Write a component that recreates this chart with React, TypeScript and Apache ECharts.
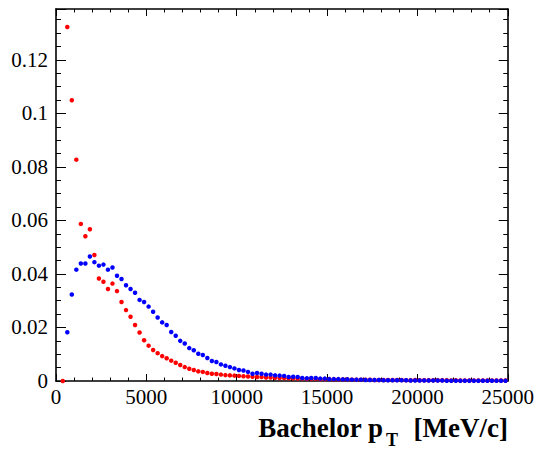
import React, { useEffect, useRef } from "react";
import * as echarts from "echarts";

// Histogram bins: first plotted bin centre and bin width (MeV/c)
const binStart = 375;
const binWidth = 250;

// Red histogram (normalised), bins from 375 to 24875
const redValues: number[] = [
  0, 0.1323, 0.1049, 0.0827, 0.0587, 0.0541, 0.0567, 0.0471, 0.0383, 0.0371,
  0.0344, 0.0364, 0.0336, 0.0295, 0.0265, 0.024, 0.0209, 0.0181, 0.0152, 0.0132,
  0.0116, 0.0104, 0.0093, 0.0085, 0.0076, 0.0068, 0.006, 0.0052, 0.0046, 0.0041,
  0.0036, 0.0034, 0.003, 0.0027, 0.0026, 0.0024, 0.0022, 0.0021, 0.002, 0.0019,
  0.0018, 0.0017, 0.0016, 0.0015, 0.0015, 0.0013, 0.0013, 0.0012, 0.0011, 0.0011,
  0.001, 0.001, 0.0009, 0.0009, 0.0008, 0.0008, 0.0008, 0.0007, 0.0007, 0.0007,
  0.0006,
  0.0006, 0.0006, 0.0006, 0.0005, 0.0005, 0.0005, 0.0005, 0.0005, 0.0004, 0.0004,
  0.0004, 0.0004, 0.0004, 0.0004, 0.0004, 0.0003, 0.0003, 0.0004, 0.0003, 0.0003,
  0.0003, 0.0003, 0.0003, 0.0003, 0.0003, 0.0002, 0.0003, 0.0002, 0.0002, 0.0002,
  0.0002, 0.0002, 0.0002, 0.0002, 0.0002, 0.0002, 0.0002, 0.0002,
];

// Blue histogram (normalised), bins from 375 to 24875 (first bin empty)
const blueValues: (number | null)[] = [
  null, 0.0182, 0.0323, 0.0416, 0.0439, 0.0439, 0.0465, 0.0444, 0.0431, 0.0435,
  0.0416, 0.0424, 0.0393, 0.0381, 0.0358, 0.0344, 0.033, 0.0303, 0.0295, 0.0278,
  0.0259, 0.0237, 0.0219, 0.0209, 0.0183, 0.0169, 0.015, 0.014, 0.0123, 0.0115,
  0.0102, 0.0097, 0.0086, 0.0075, 0.0071, 0.0062, 0.0057, 0.0052, 0.0047, 0.0041,
  0.0039, 0.0034, 0.0027, 0.003, 0.0027, 0.0024, 0.0024, 0.0021, 0.002, 0.0019,
  0.0015, 0.0016, 0.0015, 0.0011, 0.001, 0.0011, 0.0011, 0.0009, 0.0009, 0.0007,
  0.0007,
  0.0007, 0.0006, 0.0006, 0.0005, 0.0005, 0.0005, 0.0004, 0.0004, 0.0004, 0.0004,
  0.0003, 0.0003, 0.0003, 0.0003, 0.0003, 0.0003, 0.0002, 0.0002, 0.0002, 0.0002,
  0.0002, 0.0002, 0.0002, 0.0002, 0.0001, 0.0001, 0.0001, 0.0001, 0.0001, 0.0001,
  0.0001, 0.0001, 0.0001, 0.0001, 0.0001, 0.0001, 0.0001, 0.0001,
];

const xMin = 0;
const xMax = 25000;
const xInterval = 5000;
const yMin = 0;
const yMax = 0.139;
const yInterval = 0.02;

const titleMain = "Bachelor p";
const titleSub = "T";
const titleUnit = "[MeV/c]";

const FONT = "Liberation Serif";

function toPairs(values: (number | null)[]) {
  const out: [number, number][] = [];
  values.forEach((v, i) => {
    if (v !== null) out.push([binStart + i * binWidth, v]);
  });
  return out;
}

export default function App() {
  const ref = useRef<HTMLDivElement>(null);
  useEffect(() => {
    if (!ref.current) return;
    const chart = echarts.init(ref.current, null, { renderer: "svg" });
    const frameLine = { color: "#000", width: 1.6 };
    const tickLine = { color: "#000", width: 1 };
    const richLabel = {
      t: { fontFamily: FONT, fontSize: 21, color: "#000", fontWeight: "normal" as const },
    };
    const xBase = {
      type: "value" as const,
      min: xMin,
      max: xMax,
      interval: xInterval,
      axisLine: { show: true, onZero: false, lineStyle: frameLine },
      axisTick: { show: true, inside: true, length: 7, lineStyle: tickLine },
      minorTick: { show: true, splitNumber: 5, length: 3.5, lineStyle: tickLine },
      splitLine: { show: false },
      minorSplitLine: { show: false },
    };
    const yBase = {
      type: "value" as const,
      min: yMin,
      max: yMax,
      interval: yInterval,
      axisLine: { show: true, onZero: false, lineStyle: frameLine },
      axisTick: { show: true, inside: true, length: 10, lineStyle: tickLine },
      minorTick: { show: true, splitNumber: 4, length: 5, lineStyle: tickLine },
      splitLine: { show: false },
      minorSplitLine: { show: false },
    };
    chart.setOption({
      animation: false,
      backgroundColor: "#fff",
      textStyle: { fontFamily: FONT },
      grid: { left: 56, right: 28, top: 9, bottom: 68, containLabel: false },
      xAxis: [
        {
          ...xBase,
          position: "bottom",
          axisLabel: {
            show: true,
            margin: 5,
            hideOverlap: false,
            fontFamily: FONT,
            fontSize: 21,
            color: "#000",
            rich: richLabel,
            formatter: (v: number) => `{t|${v}}`,
          },
        },
        { ...xBase, position: "top", axisLabel: { show: false } },
      ],
      yAxis: [
        {
          ...yBase,
          position: "left",
          axisLabel: {
            show: true,
            margin: 8,
            showMaxLabel: false,
            hideOverlap: false,
            fontFamily: FONT,
            fontSize: 21,
            color: "#000",
            rich: richLabel,
            formatter: (v: number) => `{t|${+v.toFixed(4)}}`,
          },
        },
        {
          ...yBase,
          position: "right",
          axisTick: { show: true, inside: true, length: 9, lineStyle: tickLine },
          minorTick: { show: true, splitNumber: 4, length: 4.5, lineStyle: tickLine },
          axisLabel: { show: false },
        },
      ],
      series: [
        {
          type: "scatter",
          name: "red",
          xAxisIndex: 0,
          yAxisIndex: 0,
          data: toPairs(redValues),
          symbol: "circle",
          symbolSize: 4.5,
          itemStyle: { color: "#ff0000", opacity: 1 },
          silent: true,
        },
        {
          type: "scatter",
          name: "blue",
          xAxisIndex: 0,
          yAxisIndex: 0,
          data: toPairs(blueValues),
          symbol: "circle",
          symbolSize: 4.5,
          itemStyle: { color: "#0000ff", opacity: 1 },
          silent: true,
        },
      ],
      graphic: [
        {
          type: "text",
          x: 383,
          y: 428,
          style: {
            text: titleMain,
            font: `bold 27px ${FONT}`,
            fill: "#000",
            textAlign: "right",
            textVerticalAlign: "middle",
          },
        },
        {
          type: "text",
          x: 386,
          y: 440,
          style: {
            text: titleSub,
            font: `bold 18px ${FONT}`,
            fill: "#000",
            textAlign: "left",
            textVerticalAlign: "middle",
          },
        },
        {
          type: "text",
          x: 508,
          y: 428,
          style: {
            text: titleUnit,
            font: `bold 27px ${FONT}`,
            fill: "#000",
            textAlign: "right",
            textVerticalAlign: "middle",
          },
        },
      ],
    });
    return () => chart.dispose();
  }, []);
  return (
    <div
      ref={ref}
      style={{ position: "fixed", left: 0, top: 0, width: 537, height: 449 }}
    />
  );
}
